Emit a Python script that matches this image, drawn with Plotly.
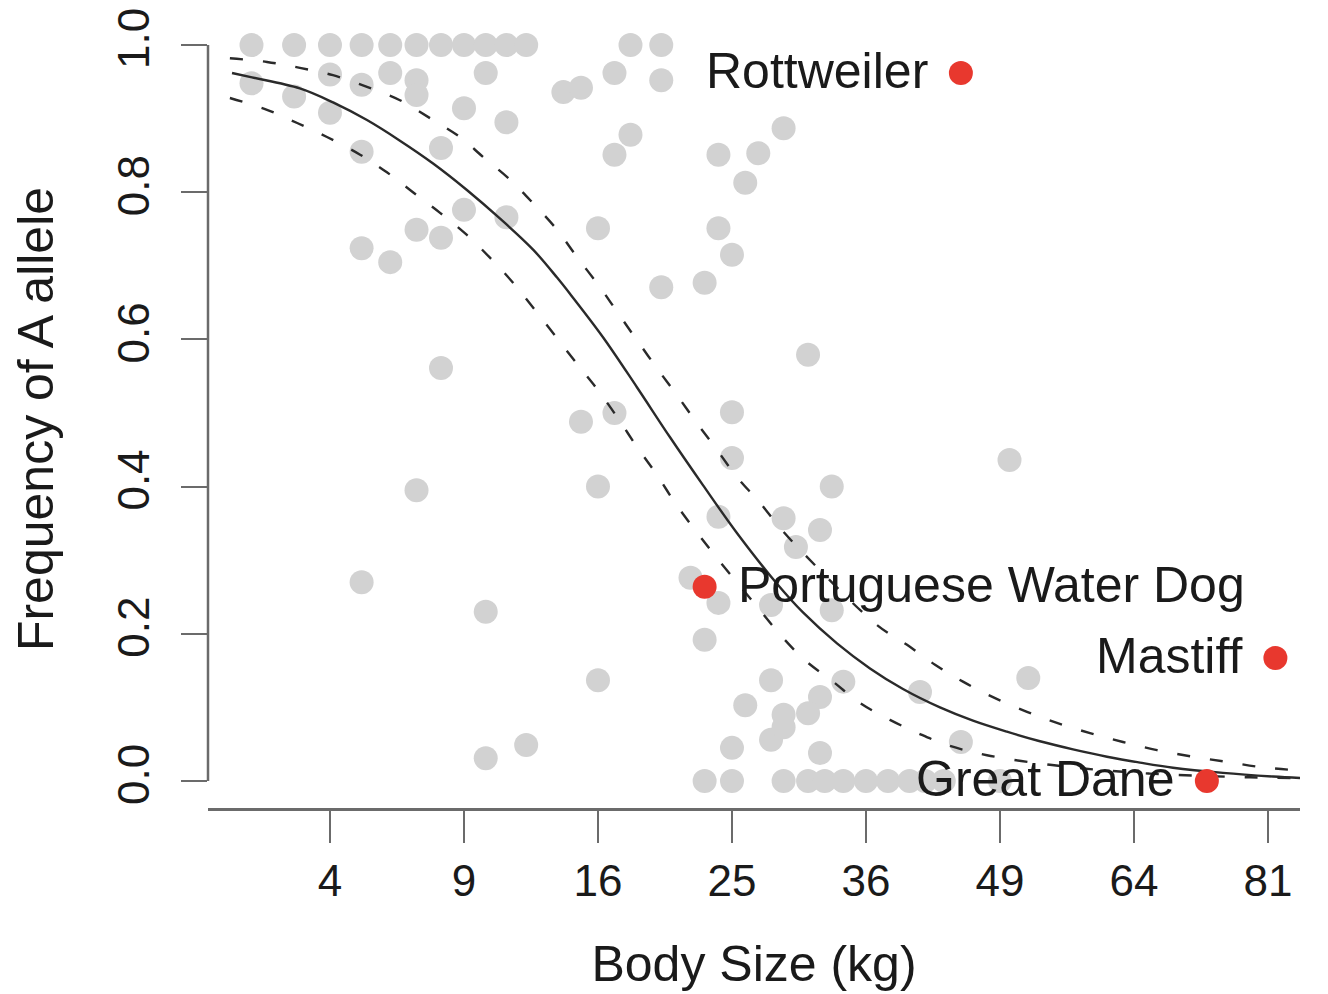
import numpy as np
import plotly.graph_objects as go

# ---------------- data ----------------
# gray breeds: body size (kg) and frequency of A allele
breed_kg = [2, 3, 4, 5, 6, 7, 8, 9, 10, 11, 12, 18, 20,
            2, 3, 4, 4, 5, 6, 7, 7, 10, 14, 15, 9, 11, 5, 8, 9, 11, 7, 8, 5, 6,
            17, 20, 29, 18, 17, 24, 27, 26, 16, 24, 25, 20, 23,
            8, 7, 15, 31, 17, 25, 25, 16, 33, 24, 29, 32, 30, 50,
            5, 10, 10, 12, 22, 24, 28, 33, 23, 16, 28, 34, 26, 29, 32, 31, 28, 29, 25, 32,
            41, 52, 45,
            23, 25, 29, 31, 32.4, 34, 36, 38, 40, 41.5, 43.3, 49]
breed_freq = [1.0, 1.0, 1.0, 1.0, 1.0, 1.0, 1.0, 1.0, 1.0, 1.0, 1.0, 1.0, 1.0,
              0.948, 0.930, 0.960, 0.908, 0.946, 0.962, 0.952, 0.932, 0.962, 0.936, 0.942,
              0.914, 0.895, 0.855, 0.860, 0.776, 0.766, 0.749, 0.738, 0.724, 0.705,
              0.962, 0.952, 0.887, 0.878, 0.851, 0.851, 0.853, 0.813, 0.751, 0.751, 0.715, 0.671, 0.677,
              0.561, 0.395, 0.488, 0.579, 0.500, 0.501, 0.439, 0.400, 0.400, 0.359, 0.357, 0.341, 0.318, 0.436,
              0.270, 0.230, 0.031, 0.049, 0.276, 0.242, 0.239, 0.232, 0.192, 0.137, 0.137, 0.135,
              0.103, 0.090, 0.114, 0.092, 0.056, 0.073, 0.045, 0.038,
              0.121, 0.140, 0.053,
              0.0, 0.0, 0.0, 0.0, 0.0, 0.0, 0.0, 0.0, 0.0, 0.0, 0.0, 0.0]

# highlighted breeds
hl_names = ["Rottweiler", "Portuguese Water Dog", "Mastiff", "Great Dane"]
hl_kg = [45, 23, 82, 73]
hl_freq = [0.962, 0.264, 0.167, 0.0]
hl_side = ["left", "right", "left", "left"]

# fitted curve (solid)
fit_kg = [1.61, 2.01, 3.15, 4.09, 5.18, 6.36, 7.67, 9.13, 10.69, 12.36, 13.65, 14.37,
          16.30, 18.41, 20.59, 22.88, 25.37, 28.47, 30.58, 33.45, 36.36, 39.39, 42.93,
          46.22, 49.73, 53.27, 56.93, 60.82, 64.72, 68.74, 75.07, 81.67, 85.36]
fit_freq = [0.962, 0.956, 0.941, 0.922, 0.898, 0.870, 0.839, 0.803, 0.764, 0.722, 0.684, 0.662,
            0.603, 0.535, 0.467, 0.402, 0.337, 0.268, 0.229, 0.187, 0.153, 0.125, 0.100,
            0.082, 0.067, 0.054, 0.043, 0.033, 0.025, 0.018, 0.011, 0.006, 0.004]

# upper confidence band (dashed)
upper_kg = [1.57, 2.34, 3.15, 4.09, 5.18, 6.36, 7.67, 8.82, 9.87, 11.18, 12.36, 13.65, 14.77,
            16.12, 17.21, 18.41, 19.71, 21.07, 22.46, 23.89, 25.37, 27.13, 28.71, 30.58,
            36.99, 39.77, 42.45, 45.21, 48.27, 51.86, 55.13, 58.86, 62.69, 66.78, 71.23,
            75.58, 79.93, 84.40]
upper_freq = [0.982, 0.977, 0.969, 0.959, 0.943, 0.925, 0.898, 0.875, 0.848, 0.817, 0.785, 0.749, 0.712,
              0.671, 0.636, 0.599, 0.561, 0.524, 0.486, 0.450, 0.413, 0.378, 0.344, 0.310,
              0.212, 0.185, 0.158, 0.135, 0.114, 0.094, 0.079, 0.065, 0.053, 0.042, 0.033,
              0.026, 0.019, 0.015]

# lower confidence band (dashed)
lower_kg = [1.57, 2.34, 3.08, 3.91, 4.95, 5.88, 6.86, 7.96, 9.13, 10.20, 11.33, 14.83,
            16.0, 17.21, 18.41, 19.71, 20.93, 22.32, 23.89, 27.13, 28.87, 30.75, 33.11,
            35.46, 38.18, 40.81, 43.61, 47.65, 54.36, 60.0, 65.92, 72.13, 78.6, 85.36]
lower_freq = [0.928, 0.912, 0.894, 0.875, 0.851, 0.827, 0.800, 0.772, 0.742, 0.711, 0.677, 0.565,
              0.531, 0.493, 0.454, 0.416, 0.378, 0.341, 0.303, 0.232, 0.196, 0.164, 0.135,
              0.106, 0.083, 0.065, 0.049, 0.035, 0.022, 0.015, 0.010, 0.007, 0.005, 0.004]

x_tick_kg = [4, 9, 16, 25, 36, 49, 64, 81]
y_ticks = [0.0, 0.2, 0.4, 0.6, 0.8, 1.0]

# ---------------- figure ----------------
FONT = "Liberation Sans, Arial, Helvetica, sans-serif"
TXT = "#1a1a1a"
AX = "#6b6b6b"

sq = np.sqrt

fig = go.Figure()

fig.add_trace(go.Scatter(
    x=sq(breed_kg), y=breed_freq, mode="markers",
    marker=dict(size=24, color="#d2d2d2", line=dict(width=0)),
    hoverinfo="skip", showlegend=False, cliponaxis=False))

fig.add_trace(go.Scatter(
    x=sq(upper_kg), y=upper_freq, mode="lines", line_shape="spline",
    line=dict(color="#2a2a2a", width=2.4, dash="13px,20px"),
    showlegend=False, cliponaxis=False))
fig.add_trace(go.Scatter(
    x=sq(lower_kg), y=lower_freq, mode="lines", line_shape="spline",
    line=dict(color="#2a2a2a", width=2.4, dash="13px,20px"),
    showlegend=False, cliponaxis=False))
fig.add_trace(go.Scatter(
    x=sq(fit_kg), y=fit_freq, mode="lines", line_shape="spline",
    line=dict(color="#2a2a2a", width=2.4),
    showlegend=False, cliponaxis=False))

fig.add_trace(go.Scatter(
    x=sq(hl_kg), y=hl_freq, mode="markers",
    marker=dict(size=24, color="#e8382e", line=dict(width=0)),
    showlegend=False, cliponaxis=False))

for name, k, f, side in zip(hl_names, hl_kg, hl_freq, hl_side):
    fig.add_annotation(
        x=float(sq(k)), y=f, xref="x", yref="y", text=name, showarrow=False,
        xanchor="right" if side == "left" else "left", yanchor="middle",
        xshift=-31 if side == "left" else 31, yshift=2,
        font=dict(family=FONT, size=50, color=TXT))

# y axis line spanning only 0..1 (R style)
fig.add_shape(type="line", xref="paper", yref="y", x0=0, x1=0, y0=0, y1=1,
              line=dict(color=AX, width=2.5))

fig.update_layout(
    width=1328, height=994,
    margin=dict(l=200, r=36, t=22, b=194, autoexpand=False),
    paper_bgcolor="white", plot_bgcolor="white",
    font=dict(family=FONT, color=TXT),
    xaxis=dict(
        automargin=False,
        range=[1.0896, 9.239],
        tickvals=list(sq(x_tick_kg)), ticktext=[str(v) for v in x_tick_kg],
        ticks="outside", ticklen=32, tickwidth=2.2, tickcolor=AX,
        showline=True, linecolor=AX, linewidth=2.5,
        showgrid=False, zeroline=False,
        tickfont=dict(family=FONT, size=44, color=TXT),
        ticklabelstandoff=0, ticklabeloverflow="allow",
        title=dict(text="Body Size (kg)", font=dict(family=FONT, size=50, color=TXT), standoff=43),
    ),
    yaxis=dict(
        automargin=False,
        range=[-0.0367, 1.0204],
        tickvals=y_ticks, ticktext=[f"{v:.1f}" for v in y_ticks],
        tickangle=-90,
        ticks="outside", ticklen=26, tickwidth=2.2, tickcolor=AX,
        showline=False, showgrid=False, zeroline=False,
        tickfont=dict(family=FONT, size=44, color=TXT),
        ticklabelstandoff=14, ticklabeloverflow="allow",
        title=dict(text="Frequency of A allele", font=dict(family=FONT, size=50, color=TXT), standoff=42),
    ),
)

fig.write_html("out.html")
